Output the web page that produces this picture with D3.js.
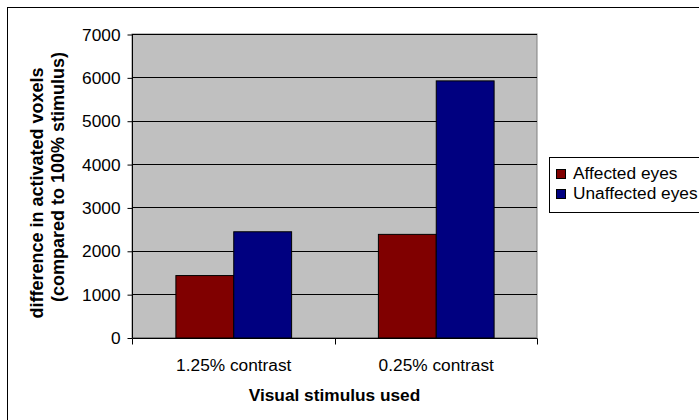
<!DOCTYPE html>
<html>
<head>
<meta charset="utf-8">
<script src="https://cdn.jsdelivr.net/npm/d3@7"></script>
<style>
  html, body { margin: 0; padding: 0; background: #fff; }
  svg { display: block; font-family: Arial, "Liberation Sans", sans-serif; }
</style>
</head>
<body>
<svg id="chart" width="699" height="420"></svg>
<script>
const categories = ["1.25% contrast", "0.25% contrast"];
const seriesNames = ["Affected eyes", "Unaffected eyes"];
const affectedValues = [1440, 2390];
const unaffectedValues = [2450, 5930];
const yTicks = [0, 1000, 2000, 3000, 4000, 5000, 6000, 7000];
const seriesColors = ["#800000", "#000080"];

const FONT = "Arial, 'Liberation Sans', sans-serif";
const FS = 17.3;

const svg = d3.select("#chart");
const plot = { left: 132, right: 537, top: 34, bottom: 337.5 };

// Outer chart frame (runs past the right and bottom edges)
svg.append("rect")
  .attr("x", 7.5).attr("y", 7.5)
  .attr("width", 720).attr("height", 440)
  .attr("fill", "#fff").attr("stroke", "#000").attr("stroke-width", 1);

const x0 = d3.scaleBand().domain(categories).range([plot.left, plot.right]).paddingInner(0).paddingOuter(0);
// bars take 2 of 3.5 units inside each category (150% gap width)
const x1 = d3.scaleBand().domain(seriesNames)
  .range([x0.bandwidth() * 0.75 / 3.5, x0.bandwidth() * 2.75 / 3.5]).padding(0);
const y = d3.scaleLinear().domain([0, 7000]).range([plot.bottom, plot.top]);

// plot background
svg.append("rect")
  .attr("x", plot.left).attr("y", plot.top)
  .attr("width", plot.right - plot.left).attr("height", plot.bottom - plot.top)
  .attr("fill", "#c0c0c0").attr("stroke", "#808080").attr("stroke-width", 1);

// gridlines
svg.append("g").selectAll("line").data(yTicks.filter(d => d > 0)).join("line")
  .attr("x1", plot.left).attr("x2", plot.right)
  .attr("y1", d => Math.round(y(d)) + 0.5).attr("y2", d => Math.round(y(d)) + 0.5)
  .attr("stroke", "#000").attr("stroke-width", 1);

// bars
const rows = categories.map((c, i) => ({ cat: c, vals: [affectedValues[i], unaffectedValues[i]] }));
const groups = svg.append("g").selectAll("g").data(rows).join("g")
  .attr("transform", d => `translate(${x0(d.cat)},0)`);
groups.selectAll("rect").data(d => d.vals.map((v, j) => ({ v, s: seriesNames[j], j }))).join("rect")
  .attr("x", d => x1(d.s) + 0.5)
  .attr("y", d => y(d.v) + 0.5)
  .attr("width", x1.bandwidth())
  .attr("height", d => y(0) - y(d.v))
  .attr("fill", d => seriesColors[d.j])
  .attr("stroke", "#000").attr("stroke-width", 1);

// y axis
const yAxis = svg.append("g")
  .attr("transform", `translate(${plot.left + 0.5},0.5)`)
  .call(d3.axisLeft(y).tickValues(yTicks).tickSize(5).tickPadding(7).tickFormat(d3.format("d")));
yAxis.attr("font-size", FS).attr("font-family", FONT);
yAxis.select(".domain").attr("stroke", "#000").attr("d", `M0,${plot.top}V${plot.bottom}`);
yAxis.selectAll(".tick line").attr("stroke", "#000");
yAxis.selectAll("text").attr("fill", "#000");

// x axis
const xAxis = svg.append("g")
  .attr("transform", `translate(0.5,${Math.round(plot.bottom) + 0.5})`)
  .call(d3.axisBottom(x0).tickSize(0).tickPadding(0));
xAxis.attr("font-size", FS).attr("font-family", FONT);
xAxis.select(".domain").attr("stroke", "#000").attr("d", `M${plot.left},0H${plot.right}`);
xAxis.selectAll(".tick text").attr("fill", "#000").attr("dy", null).attr("y", 32);
// category boundary ticks
const boundaries = [plot.left, x0(categories[1]), plot.right];
xAxis.append("g").selectAll("line").data(boundaries).join("line")
  .attr("x1", d => Math.round(d)).attr("x2", d => Math.round(d))
  .attr("y1", 0).attr("y2", 6).attr("stroke", "#000");

// axis titles
svg.append("text")
  .attr("x", (plot.left + plot.right) / 2).attr("y", 401)
  .attr("text-anchor", "middle").attr("font-size", FS).attr("font-weight", "bold")
  .text("Visual stimulus used");

const yTitle = svg.append("text")
  .attr("transform", "rotate(-90)")
  .attr("text-anchor", "middle").attr("font-size", 18).attr("font-weight", "bold");
yTitle.append("tspan").attr("x", -193).attr("y", 43).text("difference in activated voxels");
yTitle.append("tspan").attr("x", -177).attr("y", 64).text("(compared to 100% stimulus)");

// legend
const legend = svg.append("g");
legend.append("rect")
  .attr("x", 549.5).attr("y", 157.5).attr("width", 200).attr("height", 55)
  .attr("fill", "#fff").attr("stroke", "#000").attr("stroke-width", 1);
seriesNames.forEach((name, i) => {
  legend.append("rect")
    .attr("x", 556.5).attr("y", 169.5 + i * 20).attr("width", 9).attr("height", 9)
    .attr("fill", seriesColors[i]).attr("stroke", "#000");
  legend.append("text")
    .attr("x", 573).attr("y", 179 + i * 20)
    .attr("font-size", FS).attr("fill", "#000").text(name);
});
</script>
</body>
</html>
